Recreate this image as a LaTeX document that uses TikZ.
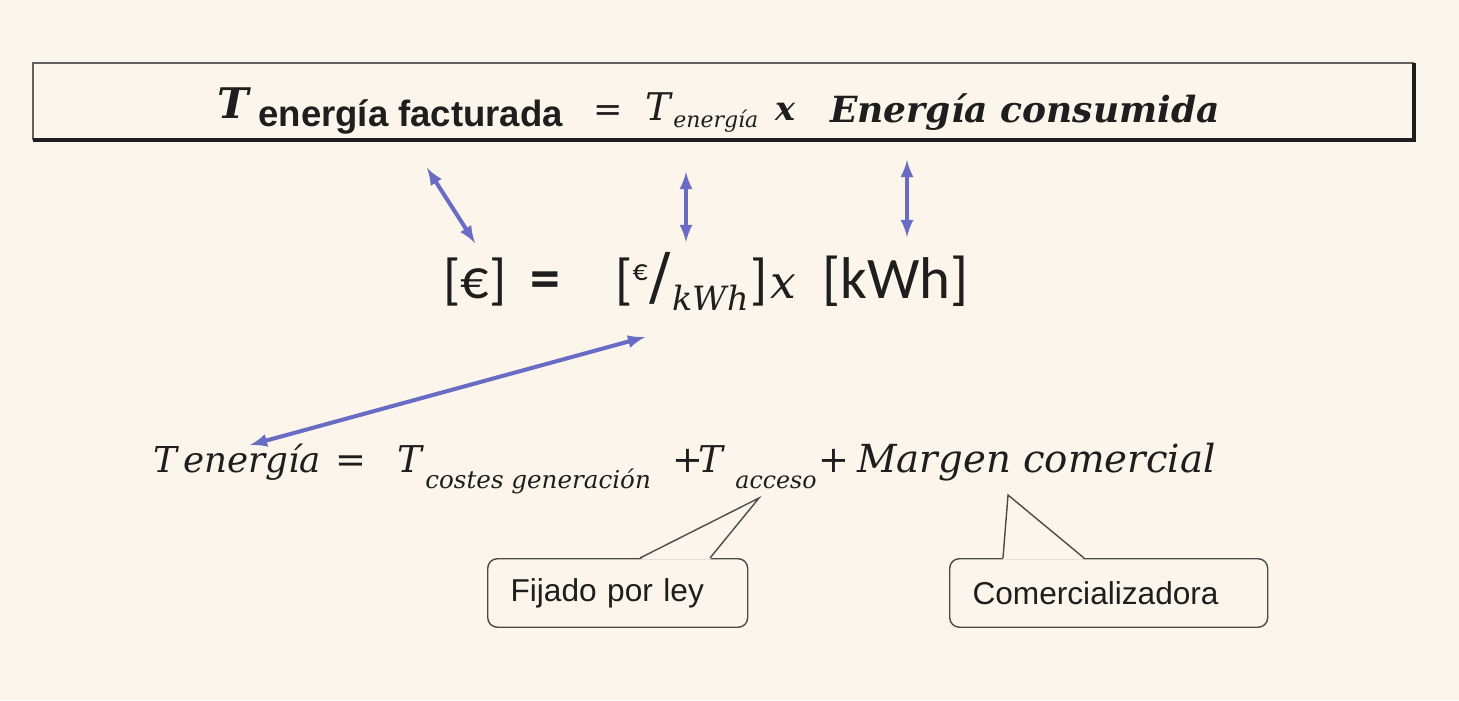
\documentclass[tikz,border=0pt]{standalone}
\usepackage{fontspec}
\setmainfont{DejaVu Serif}
\newfontfamily\cambf{DejaVu Serif}
\newfontfamily\calf{Carlito}
\newfontfamily\arf{Liberation Sans}
\usetikzlibrary{positioning}
\definecolor{papel}{RGB}{251,245,236}
\definecolor{flecha}{RGB}{104,108,196}
\definecolor{tinta}{RGB}{30,30,30}
\newcommand\fs[1]{\fontsize{#1}{#1}\selectfont}

\begin{document}
\begin{tikzpicture}[x=0.02cm, y=-0.02cm,
  txt/.style={inner sep=0, anchor=base west, text=tinta},
  dbl/.style={<->, >=latex, flecha, line width=2.3pt},
  globo/.style={draw=tinta!80, line width=0.8pt, rounded corners=5.5pt, fill=papel, inner xsep=13pt, align=left, anchor=north west, minimum height=39pt, font=\arf\fs{18}, text=tinta},
  punta/.style={draw=tinta!80, line width=0.8pt}]
\useasboundingbox (0,0) rectangle (1459,700);
\fill[papel] (0,0) rectangle (1459,700);
% recuadro de arriba
\draw[tinta!70, line width=0.9pt] (33,140) -- (33,63) -- (1414,63);
\draw[tinta, line width=2pt] (33,140) -- (1414,140) -- (1414,63);
\node[txt, font=\cambf\bfseries\itshape\fs{24}] (tfact) at (217,118) {T};
\node[txt, font=\arf\bfseries\fs{20.8}] (sfact) at (258,126) {energía facturada};
\node[txt, font=\cambf\fs{20}] (igtop) at (593,121) {=};
\node[txt, font=\cambf\itshape\fs{21.7}] (tener) at (645,120) {T};
\node[txt, font=\cambf\itshape\fs{12.5}] (stener) at (673,127) {energía};
\node[txt, font=\cambf\bfseries\itshape\fs{19}] (xtop) at (775,120) {x};
\node[txt, font=\cambf\bfseries\itshape\fs{20.5}] (econs) at (830,122) {Energía consumida};
% unidades
\node[txt, font=\calf\fs{32}] (eur) at (443,298) {[€]};
\node[txt, font=\calf\bfseries\fs{34}] (igmid) at (530,298) {=};
\node[txt, font=\calf\fs{32}] (eurkwh) at (615,298) {[\raisebox{10pt}{\fs{17}€}\kern1pt{\cambf\fs{36}/}\kern1pt\raisebox{-7pt}{\cambf\itshape\fs{19}kWh}\kern1pt]};
\node[txt, font=\cambf\itshape\fs{26}] (xmid) at (770,298) {x};
\node[txt, font=\calf\fs{33.5}] (kwh) at (822,298) {[kWh]};
% desglose
\node[txt, font=\cambf\itshape\fs{20.3}] (tenerg) at (153,472) {T\,energía};
\node[txt, font=\cambf\fs{21}] (igbot) at (335,472) {=};
\node[txt, font=\cambf\itshape\fs{21}] (tcost) at (397,472) {T};
\node[txt, font=\cambf\itshape\fs{14}] (scost) at (425,488) {costes generación};
\node[txt, font=\cambf\fs{21}] (mas1) at (672,472) {+};
\node[txt, font=\cambf\itshape\fs{21}] (tacc) at (698,472) {T};
\node[txt, font=\cambf\itshape\fs{13.5}] (sacc) at (735,488) {acceso};
\node[txt, font=\cambf\fs{21}] (mas2) at (818,472) {+};
\node[txt, font=\cambf\itshape\fs{22}] (margen) at (857,472) {Margen comercial};

\draw[dbl] ([shift={(169,42)}]sfact.base west) -- ([shift={(32,-55)}]eur.base west);
\draw[dbl] ([shift={(13,45)}]stener.base west) -- ([shift={(71,-56)}]eurkwh.base west);
\draw[dbl] ([shift={(77,38)}]econs.base west) -- ([shift={(85,-61)}]kwh.base west);
\draw[dbl] ([shift={(30,39)}]eurkwh.base west) -- ([shift={(97,-27)}]tenerg.base west);

% globos
\node[globo, minimum width=148pt, text width=122pt] (ley) at (487,558) {Fijado por ley};
\node[globo, minimum width=181pt, text width=155pt] (comer) at (949,558) {Comercializadora};
\coordinate (pley) at ([shift={(24,10)}]sacc.base west);
\coordinate (pcom) at ([shift={(151,23)}]margen.base west);
\fill[papel] ([shift={(153,1.5)}]ley.north west) -- (pley) -- ([shift={(223,1.5)}]ley.north west) -- cycle;
\draw[punta] ([shift={(153,0)}]ley.north west) -- (pley) -- ([shift={(223,0)}]ley.north west);
\fill[papel] ([shift={(54,1.5)}]comer.north west) -- (pcom) -- ([shift={(135,1.5)}]comer.north west) -- cycle;
\draw[punta] ([shift={(54,0)}]comer.north west) -- (pcom) -- ([shift={(135,0)}]comer.north west);
\end{tikzpicture}
\end{document}
